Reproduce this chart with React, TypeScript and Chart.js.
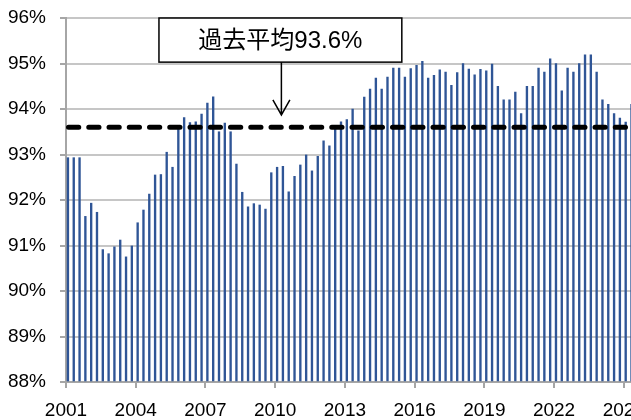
import React, { useEffect, useRef } from "react";
import { Chart, registerables } from "chart.js";

Chart.register(...registerables);

// ---- data ----
const START_YEAR = 2001;
// quarterly values (%), 2001Q1 .. 2025Q2
const RATES: number[] = [
  92.93, 92.93, 92.93, 91.64, 91.93, 91.73, 90.91, 90.82, 90.97, 91.12,
  90.75, 90.99, 91.5, 91.78, 92.13, 92.55, 92.56, 93.05, 92.72, 93.55,
  93.81, 93.7, 93.72, 93.89, 94.13, 94.27, 93.5, 93.69, 93.5, 92.79,
  92.17, 91.85, 91.92, 91.89, 91.8, 92.6, 92.72, 92.74, 92.18, 92.52,
  92.77, 92.99, 92.64, 92.96, 93.3, 93.19, 93.57, 93.72, 93.77, 94.0,
  93.52, 94.26, 94.44, 94.68, 94.44, 94.7, 94.9, 94.9, 94.7, 94.89,
  94.96, 95.05, 94.68, 94.74, 94.86, 94.81, 94.52, 94.8, 95.0, 94.88,
  94.75, 94.87, 94.84, 94.99, 94.5, 94.2, 94.2, 94.37, 93.9, 94.5,
  94.5, 94.9, 94.81, 95.1, 95.0, 94.4, 94.9, 94.81, 95.0, 95.19,
  95.19, 94.81, 94.2, 94.1, 93.9, 93.8, 93.71, 94.1,
];
const AVERAGE = 93.6;
const ANNOTATION_TEXT = "過去平均93.6%";
const Y_MIN = 88;
const Y_MAX = 96;
const Y_STEP = 1;
const X_MIN = 2001;
const X_MAX = 2026;
const X_STEP = 3;

// annotation placement in data units
const BOX_X_FROM = 2005.0;
const BOX_X_TO = 2015.45;
const BOX_Y_TOP = 96;
const BOX_Y_BOTTOM = 95.03;
const ARROW_TIP_Y = 93.87;

const points = RATES.map((v, i) => ({
  x: START_YEAR + Math.floor(i / 4) + ((i % 4) * 3 + 1) / 12,
  y: v,
}));

const FONT = "'Liberation Sans', Arial, 'Noto Sans CJK JP', sans-serif";

const overlayPlugin = {
  id: "overlay",
  afterDatasetsDraw(chart: any) {
    const { ctx, chartArea, scales } = chart;
    const xs = scales.x;
    const ys = scales.y;
    ctx.save();
    // average dashed line
    const yy = ys.getPixelForValue(AVERAGE);
    ctx.strokeStyle = "#000";
    ctx.lineWidth = 5;
    ctx.lineCap = "round";
    ctx.setLineDash([10.25, 10]);
    ctx.beginPath();
    ctx.moveTo(chartArea.left + 2.5, yy);
    ctx.lineTo(chartArea.right, yy);
    ctx.stroke();

    // annotation box
    ctx.setLineDash([]);
    ctx.lineCap = "butt";
    const x1 = xs.getPixelForValue(BOX_X_FROM);
    const x2 = xs.getPixelForValue(BOX_X_TO);
    const y1 = ys.getPixelForValue(BOX_Y_TOP);
    const y2 = ys.getPixelForValue(BOX_Y_BOTTOM);
    ctx.fillStyle = "#fff";
    ctx.fillRect(x1, y1, x2 - x1, y2 - y1);
    ctx.lineWidth = 1.5;
    ctx.strokeStyle = "#000";
    ctx.strokeRect(x1, y1, x2 - x1, y2 - y1);
    ctx.fillStyle = "#000";
    ctx.font = `24px ${FONT}`;
    ctx.textAlign = "center";
    ctx.textBaseline = "middle";
    const cx = (x1 + x2) / 2;
    ctx.fillText(ANNOTATION_TEXT, cx, (y1 + y2) / 2 + 1);

    // arrow
    const tip = ys.getPixelForValue(ARROW_TIP_Y);
    ctx.beginPath();
    ctx.moveTo(cx + 1, y2);
    ctx.lineTo(cx + 1, tip);
    ctx.moveTo(cx + 1 - 8.5, tip - 15);
    ctx.lineTo(cx + 1, tip);
    ctx.lineTo(cx + 1 + 8.5, tip - 15);
    ctx.stroke();
    ctx.restore();
  },
};

export default function App() {
  const ref = useRef<HTMLCanvasElement | null>(null);

  useEffect(() => {
    if (!ref.current) return;
    const chart = new Chart(ref.current, {
      type: "bar",
      data: {
        datasets: [
          {
            data: points as any,
            backgroundColor: "#2f5596",
            barThickness: 1.7,
            base: Y_MIN,
          } as any,
        ],
      },
      options: {
        animation: false,
        responsive: false,
        maintainAspectRatio: false,
        devicePixelRatio: 1,
        layout: { padding: { top: 18, left: 0, right: 13, bottom: 0 } },
        plugins: { legend: { display: false }, tooltip: { enabled: false } },
        scales: {
          x: {
            type: "linear",
            offset: false,
            min: X_MIN,
            max: X_MAX,
            afterFit: (s: any) => {
              s.height = 38;
              s.paddingLeft = 0;
              s.paddingRight = 0;
            },
            ticks: {
              stepSize: X_STEP,
              includeBounds: false,
              autoSkip: false,
              maxRotation: 0,
              padding: 11,
              color: "#000",
              font: { size: 19, family: FONT },
              callback: (v: any) => String(v),
            },
            grid: {
              offset: false,
              drawOnChartArea: false,
              drawTicks: true,
              tickLength: 6,
              color: "#a6a6a6",
              lineWidth: 2,
            },
            border: { display: true, color: "#a6a6a6", width: 2 },
          },
          y: {
            min: Y_MIN,
            max: Y_MAX,
            afterFit: (s: any) => {
              s.width = 66;
              s.paddingTop = 0;
              s.paddingBottom = 0;
            },
            ticks: {
              stepSize: Y_STEP,
              padding: 14,
              color: "#000",
              font: { size: 19, family: FONT },
              callback: (v: any) => `${v}%`,
            },
            grid: {
              color: "#c6c6c6",
              tickColor: "#a6a6a6",
              lineWidth: 2,
              tickLength: 6,
            },
            border: { display: true, color: "#a6a6a6", width: 2 },
          },
        },
      },
      plugins: [overlayPlugin],
    });
    return () => chart.destroy();
  }, []);

  return (
    <div
      style={{
        position: "fixed",
        left: 0,
        top: 0,
        width: 631,
        height: 420,
        overflow: "hidden",
        background: "#fff",
      }}
    >
      <canvas ref={ref} width={660} height={420} style={{ display: "block" }} />
    </div>
  );
}
